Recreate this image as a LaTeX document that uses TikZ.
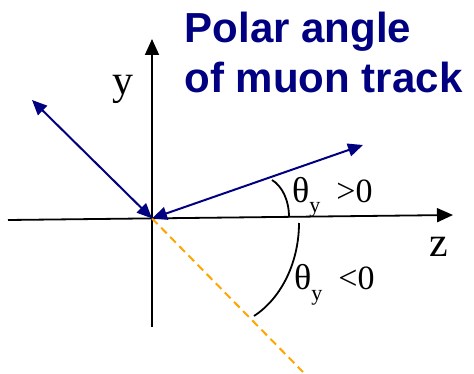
\documentclass[tikz,border=0pt]{standalone}
\usepackage{fontspec}
\setmainfont{Liberation Serif}
\newfontfamily\titlefont{Liberation Sans}
\usetikzlibrary{arrows.meta}
\definecolor{navyblue}{RGB}{0,0,128}
\definecolor{trackorange}{RGB}{255,165,0}
\newcommand\thlab[1]{{\fontsize{36}{36}\selectfont θ}\raisebox{-10pt}{\fontsize{22}{22}\selectfont y}\hspace{16pt}{\fontsize{34}{34}\selectfont #10}}
\begin{document}
\begin{tikzpicture}[x=1pt,y=-1pt,
  axis/.style={line width=1.8pt, black},
  axtip/.style={-{Triangle[length=16pt,width=14pt]}},
  track/.style={line width=2pt, navyblue, {Triangle[length=15pt,width=13pt]}-{Triangle[length=15pt,width=13pt]}},
  neg/.style={line width=2pt, trackorange, dash pattern=on 8pt off 5pt},
  anglearc/.style={line width=1.8pt, black},
  title/.style={anchor=base west, inner sep=0pt, text=navyblue, font=\titlefont\bfseries\fontsize{42}{50}\selectfont},
  axlabel/.style={anchor=base west, inner sep=0pt, font=\fontsize{42}{42}\selectfont},
  anglabel/.style={anchor=base west, inner sep=0pt}
]
\useasboundingbox (0,0) rectangle (474,374);
\coordinate (O) at (152,218.4);
\coordinate (zl) at (8,220);
\coordinate (zr) at (453,215);
\coordinate (yb) at (152,327);
\coordinate (yt) at (152,39);
\coordinate (m1) at (32,100);
\coordinate (m2) at (363,145);
\coordinate (m3) at (303,372);
\coordinate (a1s) at (272,180);
\coordinate (a1e) at (289,217);
\coordinate (a2s) at (299,223);
\coordinate (a2e) at (254,316);

\draw[axis,axtip] (zl) -- (zr);
\draw[axis,axtip] (yb) -- (yt);
\draw[neg] (O) -- (m3);
\draw[track] (m1) -- (O);
\draw[track] (O) -- (m2);
\draw[anglearc] (a1s) .. controls (282,186) and (289,200) .. (a1e);
\draw[anglearc] (a2s) .. controls (299,260) and (283,297) .. (a2e);

\node[axlabel] (ylab) at (112,95) {y};
\node[axlabel] (zlab) at (429,257) {z};
\node[anglabel] (tpos) at (292,203) {\thlab{>}};
\node[anglabel] (tneg) at (294,290) {\thlab{<}};
\node[title] (t1) at (184.5,43) {Polar angle};
\node[title] (t2) at (184.5,93) {of muon track};
\end{tikzpicture}
\end{document}
